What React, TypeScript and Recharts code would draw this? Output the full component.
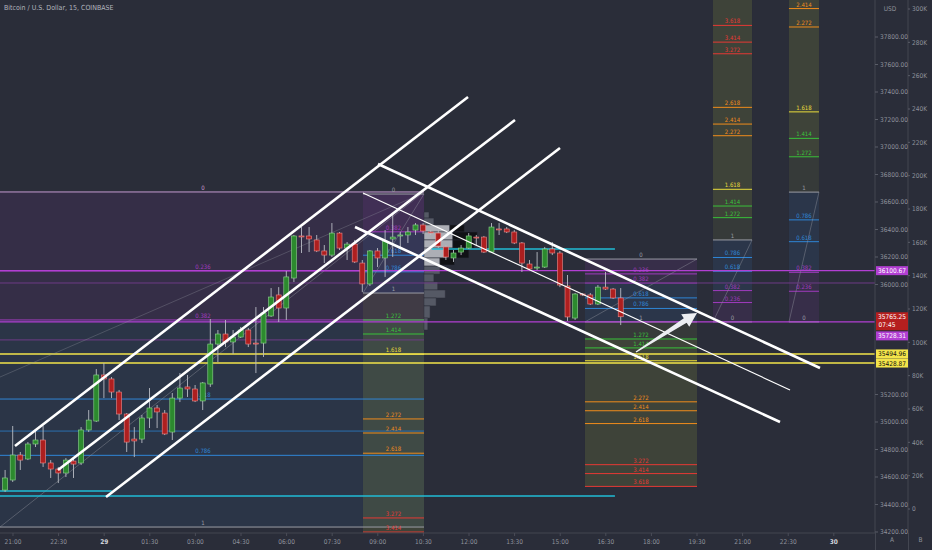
import React from 'react';
import { ComposedChart, Bar, XAxis, YAxis, ReferenceLine, ReferenceArea, ReferenceDot } from 'recharts';

const FONT = "'Liberation Sans Narrow', 'Arial Narrow', 'DejaVu Sans Condensed', 'Liberation Sans', sans-serif";
const BG = '#2a2d39';

// visible window (bar index of 15-minute candles, 0 = 21:00) and price window
const XMIN = -1.7105;
const XMAX = 113.42;
const PMIN = 34192.7;
const PMAX = 38069.1;
const VMIN = -14400;
const VMAX = 305400;

// candles: [bar index, open, high, low, close]
const candles: number[][] = [
  [-1, 34505, 34651, 34491, 34593],
  [0, 34578, 34971, 34564, 34760],
  [1, 34760, 34782, 34651, 34723],
  [2, 34731, 34854, 34723, 34840],
  [3, 34840, 34934, 34818, 34869],
  [4, 34869, 34971, 34673, 34702],
  [5, 34702, 34723, 34593, 34658],
  [6, 34658, 34673, 34556, 34629],
  [7, 34629, 34738, 34600, 34723],
  [8, 34716, 34745, 34593, 34694],
  [9, 34702, 34963, 34687, 34942],
  [10, 34942, 35087, 34927, 35014],
  [11, 35007, 35385, 35000, 35342],
  [12, 35342, 35429, 35174, 35313],
  [13, 35313, 35327, 35174, 35218],
  [14, 35218, 35233, 35014, 35058],
  [15, 35058, 35065, 34782, 34854],
  [16, 34876, 34963, 34745, 34862],
  [17, 34876, 35051, 34847, 35029],
  [18, 35029, 35247, 34956, 35102],
  [19, 35102, 35124, 34956, 35073],
  [20, 35065, 35087, 34905, 34913],
  [21, 34927, 35211, 34869, 35174],
  [22, 35174, 35356, 35145, 35247],
  [23, 35255, 35342, 35182, 35240],
  [24, 35240, 35269, 35145, 35153],
  [25, 35153, 35291, 35087, 35284],
  [26, 35276, 35749, 35255, 35567],
  [27, 35567, 35669, 35436, 35640],
  [28, 35640, 35742, 35545, 35582],
  [29, 35582, 35669, 35495, 35618],
  [30, 35618, 35691, 35611, 35669],
  [31, 35669, 35684, 35545, 35567],
  [32, 35574, 35836, 35356, 35567],
  [33, 35574, 35836, 35473, 35793],
  [34, 35771, 35974, 35764, 35909],
  [35, 35924, 35981, 35727, 35829],
  [36, 35829, 36098, 35742, 36055],
  [37, 36047, 36360, 36018, 36353],
  [38, 36353, 36418, 36229, 36350],
  [39, 36353, 36418, 36236, 36331],
  [40, 36324, 36360, 36236, 36244],
  [41, 36244, 36287, 36156, 36214],
  [42, 36214, 36447, 36200, 36374],
  [43, 36374, 36382, 36251, 36265],
  [44, 36265, 36309, 36178, 36294],
  [45, 36294, 36324, 36156, 36164],
  [46, 36156, 36178, 35945, 36004],
  [47, 36004, 36251, 35989, 36244],
  [48, 36244, 36265, 36127, 36193],
  [49, 36193, 36396, 36055, 36316],
  [50, 36331, 36520, 36200, 36345],
  [51, 36353, 36382, 36273, 36360],
  [52, 36360, 36418, 36302, 36382],
  [53, 36396, 36447, 36360, 36433],
  [54, 36433, 36447, 36367, 36389],
  [55, 36382, 36396, 36360, 36378],
  [56, 36374, 36396, 36265, 36280],
  [57, 36273, 36287, 36178, 36200],
  [58, 36193, 36251, 36164, 36229],
  [59, 36236, 36287, 36214, 36265],
  [60, 36265, 36374, 36258, 36353],
  [61, 36345, 36360, 36287, 36343],
  [62, 36345, 36353, 36229, 36236],
  [63, 36236, 36447, 36229, 36418],
  [64, 36404, 36447, 36360, 36400],
  [65, 36404, 36418, 36374, 36382],
  [66, 36382, 36396, 36294, 36302],
  [67, 36302, 36309, 36091, 36156],
  [68, 36149, 36178, 36105, 36113],
  [69, 36120, 36236, 36105, 36127],
  [70, 36127, 36273, 36120, 36258],
  [71, 36258, 36309, 36214, 36229],
  [72, 36229, 36244, 35981, 35996],
  [73, 35989, 36069, 35735, 35764],
  [74, 35756, 35938, 35742, 35931],
  [75, 35931, 35938, 35916, 35924],
  [76, 35924, 35938, 35851, 35858],
  [77, 35858, 35996, 35851, 35981],
  [78, 35981, 36091, 35960, 35967],
  [79, 35967, 35974, 35895, 35902],
  [80, 35902, 35974, 35705, 35765.25],
];

const timeTicks = [0, 6, 12, 18, 24, 30, 36, 42, 48, 54, 60, 66, 72, 78, 84, 90, 96, 102, 108];
const timeLabels = ['21:00', '22:30', '29', '01:30', '03:00', '04:30', '06:00', '07:30', '09:00', '10:30', '12:00', '13:30', '15:00', '16:30', '18:00', '19:30', '21:00', '22:30', '30'];
// price ticks (those hidden behind the price badges and the USD tag are left out)
const priceTicks = [34200, 34400, 34600, 34800, 35000, 35200, 36000, 36200, 36400, 36600, 36800, 37000, 37200, 37400, 37600, 37800];
const volTicks = [0, 20000, 40000, 60000, 80000, 100000, 120000, 140000, 160000, 180000, 200000, 220000, 240000, 260000, 280000, 300000];

// horizontal levels across the whole pane
const fullLines = [36100.67, 36011, 35728.31, 35494.96, 35428.87];
const fullLineKinds = ['magenta', 'purple', 'magenta', 'yellow', 'yellow'];
// partial horizontal levels: [price, from bar, to bar]
const partialLines = [
  [35597, XMIN, 54.08],
  [34934, XMIN, 54.08],
  [34498, XMIN, 13.0],
  [34462, XMIN, 79.2],
  [36258, 55.1, 79.2],
];
const partialKinds = ['purple', 'blue', 'cyan', 'cyan', 'cyan'];

// channel lines: [bar1, price1, bar2, price2]
const upChannel = [
  [0.26, 34825, 59.87, 37363],
  [5.92, 34651, 66.05, 37196],
  [12.24, 34455, 71.97, 36993],
];
const downChannel = [
  [48.03, 36876, 106.18, 35393],
  [46.05, 36665, 102.24, 35233],
  [45.0, 36418, 100.92, 35000],
];
const thinDiagonals = [[XMIN, 35327, 53.95, 36665]];
const arrow = [81.97, 35509, 90.0, 35793];

// fibonacci drawings
const extLevels = [0, 0.236, 0.382, 0.618, 0.786, 1, 1.272, 1.414, 1.618, 2.272, 2.414, 2.618, 3.272, 3.414, 3.618, 4.236];
const fibs = [
  { t1: XMIN, t2: 54.08, p0: 36673, p1: 34236, levels: [0, 0.236, 0.382, 0.618, 0.786, 1], labelT: 25.0 },
  { t1: 46.05, t2: 54.08, p0: 36658, p1: 35938, levels: [0, 0.382, 0.618, 0.786, 1, 1.272, 1.414, 1.618, 2.272, 2.414, 2.618, 3.272, 3.414, 3.618] },
  { t1: 75.26, t2: 90.0, p0: 36185, p1: 35728, levels: [0, 0.236, 0.382, 0.618, 0.786, 1, 1.272, 1.414, 1.618, 2.272, 2.414, 2.618, 3.272, 3.414, 3.618] },
  { t1: 92.1, t2: 97.24, p0: 35728, p1: 36324, levels: extLevels },
  { t1: 102.1, t2: 106.05, p0: 35728, p1: 36672, levels: extLevels },
];

// session volume profile rows: [low, high, from, to] (widths in bars from profile start)
const profileStart = 54.08;
const profileOuter = [
  [36483, 36527, 0, 0.66], [36433, 36483, 0, 1.3], [36076, 36135, 0, 2.1], [36018, 36076, 0, 1.3],
  [35960, 36018, 0, 1.8], [35902, 35960, 0, 2.8], [35844, 35902, 0, 1.6], [35756, 35844, 0, 0.8], [35669, 35756, 0, 0.5],
];
const profileValue = [
  [36382, 36433, 0, 3.4], [36324, 36382, 0, 3.8], [36265, 36324, 0, 3.8], [36193, 36265, 0, 3.0], [36135, 36193, 0, 2.1],
];
const profileSecond = [
  [36382, 36433, 3.4, 5.3], [36324, 36382, 3.8, 7.0], [36265, 36324, 3.8, 6.6], [36193, 36265, 3.0, 5.9], [36142, 36193, 2.1, 4.0],
];

// price scale badges
const badgePrices = [36100.67, 35765.25, 35728.31, 35494.96, 35428.87];
const badgeSub = ['', '07:45', '', '', ''];
const badgeKinds = ['magenta', 'red', 'magenta', 'yellow', 'yellow'];

const kindColor: Record<string, string> = {
  magenta: '#b23fd3', purple: '#6e3b86', yellow: '#f3e44a', blue: '#2b6fae', cyan: '#21bcd6', red: '#b51f1f',
};
const levelColor = (L: number): string => {
  if (L === 0 || L === 1) return '#9a9ca5';
  if (L < 0.5) return '#a13bbf';
  if (L < 1) return '#2f86d6';
  if (L < 1.5) return '#38c23a';
  if (L < 2) return '#e9dc3c';
  if (L < 3) return '#f08c1c';
  return '#e53935';
};
const zoneColor = (L: number): string => {
  if (L <= 0.382) return '#9c3cc0';
  if (L <= 1) return '#3a7fc4';
  return '#a4b03a';
};

const chartData = candles.map(([t, o, h, l, c]) => ({ t, o, h, l, c }));

const Candle = (props: any) => {
  const { x, y, width, height, payload } = props;
  if (!payload || height == null) return null;
  const { o, h, l, c } = payload;
  const up = c >= o;
  const ratio = h - l > 0 ? height / (h - l) : 0;
  const top = y + (h - Math.max(o, c)) * ratio;
  const bot = y + (h - Math.min(o, c)) * ratio;
  const cx = x + width / 2;
  return (
    <g>
      <line x1={cx} x2={cx} y1={y} y2={y + height} stroke="#b9bcc4" strokeWidth={0.9} />
      <rect x={x} y={top} width={width} height={Math.max(1, bot - top)}
        fill={up ? '#2c8a2e' : '#ae1f1f'} stroke={up ? '#8fd68f' : '#ee8a8a'} strokeWidth={0.6} />
    </g>
  );
};

const TimeTick = (props: any) => {
  const { x, y, payload } = props;
  const idx = timeTicks.indexOf(payload.value);
  const label = idx >= 0 ? timeLabels[idx] : '';
  const bold = label === '29' || label === '30';
  return (
    <text x={x} y={y} dy={6} textAnchor="middle" fontSize={6.5} fontFamily={FONT}
      fill={bold ? '#d1d4dc' : '#8f929b'} fontWeight={bold ? 700 : 400}>{label}</text>
  );
};

const ArrowShape = (props: any) => {
  const { x1, y1, x2, y2 } = props;
  if ([x1, y1, x2, y2].some((v) => v == null || isNaN(v))) return null;
  const dx = x2 - x1, dy = y2 - y1;
  const len = Math.hypot(dx, dy) || 1;
  const ux = dx / len, uy = dy / len;
  const nx = -uy, ny = ux;
  const hl = 14, hw = 7.5;
  const bx = x2 - ux * hl, by = y2 - uy * hl;
  const pts = [
    [x1 + nx * 0.7, y1 + ny * 0.7], [bx + nx * 2.6, by + ny * 2.6], [bx + nx * hw, by + ny * hw], [x2, y2],
    [bx - nx * hw, by - ny * hw], [bx - nx * 2.6, by - ny * 2.6], [x1 - nx * 0.7, y1 - ny * 0.7],
  ].map((p) => p.join(',')).join(' ');
  return <polygon points={pts} fill="#eceef2" />;
};

const makeBadge = (i: number) => (p: any) => {
  const { cx, cy } = p;
  if (cx == null || cy == null) return null;
  const kind = badgeKinds[i];
  const shift = i === 2 ? 14 : 0;
  const sub = badgeSub[i];
  const h = sub ? 18 : 9;
  const top = cy + shift - 4.5;
  const col = kindColor[kind];
  const txt = kind === 'yellow' ? '#111111' : '#ffffff';
  return (
    <g>
      <rect x={cx + 1} y={top} width={32} height={h} fill={col} />
      <text x={cx + 17} y={top + 7} textAnchor="middle" fontSize={6.5} fontFamily={FONT} fill={txt}>{badgePrices[i].toFixed(2)}</text>
      {sub ? <text x={cx + 12} y={top + 15} textAnchor="middle" fontSize={6.5} fontFamily={FONT} fill={txt}>{sub}</text> : null}
    </g>
  );
};

export default function App() {
  const els: React.ReactNode[] = [];
  let k = 0;

  // fib zones
  fibs.forEach((f, fi) => {
    const price = (L: number) => f.p0 + L * (f.p1 - f.p0);
    for (let j = 0; j < f.levels.length - 1; j++) {
      const up = f.levels[j + 1];
      const op = fi === 0 ? 0.1 : up > 1 ? (up <= 1.272 ? 0.1 : 0.17) : 0.12;
      els.push(
        <ReferenceArea key={`fz${k++}`} yAxisId="p" x1={f.t1} x2={f.t2} y1={price(f.levels[j])} y2={price(up)}
          fill={zoneColor(up)} fillOpacity={op} stroke="none" ifOverflow="hidden" zIndex={50} />
      );
    }
  });

  // volume profile
  [profileOuter, profileValue, profileSecond].forEach((rows, ri) => {
    rows.forEach((r) => {
      els.push(
        <ReferenceArea key={`vp${k++}`} yAxisId="p" x1={profileStart + r[2]} x2={profileStart + r[3]} y1={r[0]} y2={r[1]}
          fill={ri === 0 ? '#5a5e6a' : ri === 1 ? '#c3c5cb' : '#0d0e12'} fillOpacity={ri === 1 ? 0.85 : 0.9}
          stroke={BG} strokeWidth={0.5} ifOverflow="hidden" zIndex={60} />
      );
    });
  });

  // fib lines, labels, diagonals
  fibs.forEach((f, fi) => {
    const price = (L: number) => f.p0 + L * (f.p1 - f.p0);
    const lt = (f as any).labelT ?? (f.t1 + f.t2) / 2;
    f.levels.forEach((L) => {
      const col = fi === 0 && L === 0 ? '#c59ad2' : levelColor(L);
      els.push(
        <ReferenceLine key={`fl${k++}`} yAxisId="p" segment={[{ x: f.t1, y: price(L) }, { x: f.t2, y: price(L) }]}
          stroke={col} strokeWidth={1} ifOverflow="hidden" zIndex={70} />
      );
      els.push(
        <ReferenceDot key={`ft${k++}`} yAxisId="p" x={lt} y={price(L)} r={0} zIndex={75}
          shape={(p: any) => (p.cx == null ? <g /> : (
            <text x={p.cx} y={p.cy - 2} textAnchor="middle" fontSize={6} fontFamily={FONT} fill={col}>{String(L)}</text>
          ))} />
      );
    });
    const lo = Math.min(f.p0, f.p1), hi = Math.max(f.p0, f.p1);
    els.push(
      <ReferenceLine key={`fd${k++}`} yAxisId="p" segment={[{ x: f.t1, y: lo }, { x: f.t2, y: hi }]}
        stroke="#9598a1" strokeOpacity={0.6} strokeWidth={0.7} ifOverflow="hidden" zIndex={70} />
    );
  });

  // horizontal levels
  partialLines.forEach((l, i) => {
    els.push(
      <ReferenceLine key={`pl${k++}`} yAxisId="p" segment={[{ x: l[1], y: l[0] }, { x: l[2], y: l[0] }]}
        stroke={kindColor[partialKinds[i]]} strokeWidth={partialKinds[i] === 'cyan' ? 1.4 : 1} ifOverflow="hidden" zIndex={80} />
    );
  });
  fullLines.forEach((p, i) => {
    els.push(
      <ReferenceLine key={`hl${k++}`} yAxisId="p" y={p} stroke={kindColor[fullLineKinds[i]]}
        strokeWidth={fullLineKinds[i] === 'purple' ? 1 : 1.4} ifOverflow="hidden" zIndex={80} />
    );
  });
  thinDiagonals.forEach((d) => {
    els.push(
      <ReferenceLine key={`td${k++}`} yAxisId="p" segment={[{ x: d[0], y: d[1] }, { x: d[2], y: d[3] }]}
        stroke="#9598a1" strokeOpacity={0.45} strokeWidth={0.7} ifOverflow="hidden" zIndex={80} />
    );
  });

  const over: React.ReactNode[] = [];
  upChannel.concat(downChannel).forEach((d, i) => {
    over.push(
      <ReferenceLine key={`ch${k++}`} yAxisId="p" segment={[{ x: d[0], y: d[1] }, { x: d[2], y: d[3] }]}
        stroke="#ffffff" strokeWidth={i === 4 ? 1.2 : 2.6} ifOverflow="hidden" zIndex={700} />
    );
  });
  over.push(
    <ReferenceLine key="arrow" yAxisId="p" segment={[{ x: arrow[0], y: arrow[1] }, { x: arrow[2], y: arrow[3] }]}
      stroke="#ffffff" ifOverflow="visible" zIndex={710} shape={ArrowShape} />
  );
  badgePrices.forEach((p, i) => {
    over.push(
      <ReferenceDot key={`bd${i}`} yAxisId="p" x={XMAX} y={p} r={0} ifOverflow="visible" zIndex={900} shape={makeBadge(i)} />
    );
  });

  return (
    <div style={{ position: 'absolute', left: 0, top: 0, width: 932, height: 550, background: BG, overflow: 'hidden', fontFamily: FONT }}>
      <ComposedChart width={932} height={550} data={chartData} margin={{ top: 0, right: 0, bottom: 0, left: 0 }}>
        <XAxis dataKey="t" type="number" domain={[XMIN, XMAX]} allowDataOverflow ticks={timeTicks} interval={0}
          height={17} axisLine={{ stroke: '#434651' }} tickLine={{ stroke: '#4a4d58' }} tickSize={3} tick={<TimeTick />} />
        <YAxis yAxisId="p" orientation="right" width={33} type="number" domain={[PMIN, PMAX]} allowDataOverflow
          ticks={priceTicks} interval={0} axisLine={{ stroke: '#434651' }} tickLine={{ stroke: '#5a5d68' }} tickSize={3}
          tick={{ fill: '#8f929b', fontSize: 6.5, fontFamily: FONT }} tickFormatter={(v: number) => v.toFixed(2)} />
        <YAxis yAxisId="v" orientation="right" width={24} type="number" domain={[VMIN, VMAX]} allowDataOverflow
          ticks={volTicks} interval={0} axisLine={{ stroke: '#434651' }} tickLine={{ stroke: '#5a5d68' }} tickSize={2}
          tick={{ fill: '#8f929b', fontSize: 6.5, fontFamily: FONT }}
          tickFormatter={(v: number) => (v === 0 ? '0' : `${Math.round(v / 1000)}K`)} />
        {els}
        <Bar yAxisId="p" dataKey={(d: any) => [d.l, d.h]} barSize={5} shape={<Candle />} isAnimationActive={false} zIndex={300} />
        {over}
      </ComposedChart>
      <div style={{ position: 'absolute', left: 4, top: 4, fontSize: 7, color: '#b2b5be', whiteSpace: 'nowrap' }}>
        Bitcoin / U.S. Dollar, 15, COINBASE
      </div>
      <div style={{ position: 'absolute', left: 883, top: 4, width: 14, height: 10, color: '#8f929b', fontSize: 6.5, lineHeight: '10px', textAlign: 'center' }}>
        USD
      </div>
      <div style={{ position: 'absolute', left: 875, top: 533, width: 1, height: 17, background: '#434651' }} />
      <div style={{ position: 'absolute', left: 908, top: 533, width: 1, height: 17, background: '#434651' }} />
      <div style={{ position: 'absolute', left: 876, top: 536, width: 32, fontSize: 6.5, color: '#8f929b', textAlign: 'center' }}>A</div>
      <div style={{ position: 'absolute', left: 909, top: 536, width: 23, fontSize: 6.5, color: '#8f929b', textAlign: 'center' }}>B</div>
    </div>
  );
}
